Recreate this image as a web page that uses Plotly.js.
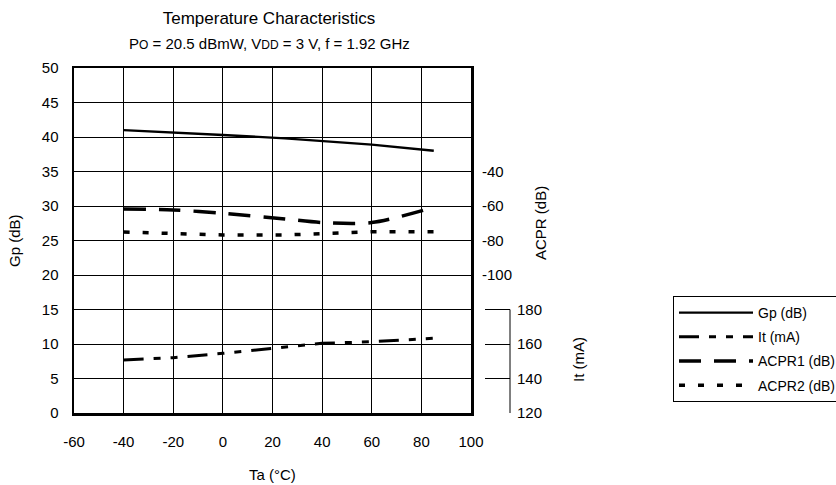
<!DOCTYPE html>
<html>
<head>
<meta charset="utf-8">
<script src="https://cdn.plot.ly/plotly-3.0.1.min.js"></script>
<style>html,body{margin:0;padding:0;background:#fff;}#chart{width:836px;height:485px;}</style>
</head>
<body>
<div id="chart"></div>
<script>
// Data
var ta = [-40, -20, 0, 25, 40, 60, 85];
var gp = [41.0, 40.7, 40.3, 39.8, 39.4, 38.9, 38.0];          // Gp (dB), left axis
var itmA = [150.7, 152.1, 154.6, 158.2, 160.4, 161.3, 163.3];  // It (mA)
var acpr1 = [-61.7, -62.3, -64.2, -67.5, -69.6, -69.6, -60.8]; // ACPR1 (dB)
var acpr2 = [-75.1, -76.2, -76.8, -76.8, -75.8, -74.9, -74.9]; // ACPR2 (dB)
var xTicks = [-60, -40, -20, 0, 20, 40, 60, 80, 100];
var xTickText = ['-60', '-40', '-20', '0', '20', '40', '60', '80', '100'];
var gpTicks = [0, 5, 10, 15, 20, 25, 30, 35, 40, 45, 50];
var acprTicks = [-100, -80, -60, -40];
var acprTickText = ['-100', '-80', '-60', '-40'];
var itTicks = [120, 140, 160, 180];

var FONT = 'Liberation Sans, Arial, sans-serif';

var traces = [
  {x: ta, y: gp, name: 'Gp (dB)', type: 'scatter', mode: 'lines', legendgroup: 'a',
   line: {color: '#000', width: 2.4}},
  {x: ta, y: itmA, name: 'It (mA)', type: 'scatter', mode: 'lines', yaxis: 'y3', legendgroup: 'b',
   line: {color: '#000', width: 3, dash: '20px,10px,7px,10px,7px,10px'}},
  {x: ta, y: acpr1, name: 'ACPR1 (dB)', type: 'scatter', mode: 'lines', yaxis: 'y2', legendgroup: 'c',
   line: {color: '#000', width: 3.5, dash: '22px,13px', shape: 'spline', smoothing: 0.8}},
  {x: ta, y: acpr2, name: 'ACPR2 (dB)', type: 'scatter', mode: 'lines', yaxis: 'y2', legendgroup: 'd',
   line: {color: '#000', width: 3.5, dash: '6px,13px'}}
];

var layout = {
  width: 836, height: 485,
  margin: {l: 74, r: 365, t: 68, b: 72, autoexpand: false},
  paper_bgcolor: '#fff', plot_bgcolor: '#fff',
  font: {family: FONT, size: 15, color: '#000'},
  showlegend: true,
  title: {text: 'Temperature Characteristics', font: {size: 17, family: FONT, color: '#000'},
          x: 269/836, xanchor: 'center', y: 1 - 18/485, yanchor: 'middle'},
  xaxis: {range: [-60, 100], tickvals: xTicks, ticktext: xTickText, showgrid: true, gridcolor: '#000', gridwidth: 1,
          zeroline: false, showline: true, linecolor: '#000', linewidth: 2.5, mirror: true,
          ticks: '', ticklabelstandoff: 13, tickfont: {size: 15}},
  yaxis: {range: [0, 50], tickvals: gpTicks, showgrid: true, gridcolor: '#000', gridwidth: 1,
          zeroline: false, showline: true, linecolor: '#000', linewidth: 2.5, mirror: true,
          ticks: '', ticklabelstandoff: 10, tickfont: {size: 15}},
  yaxis2: {overlaying: 'y', side: 'right', anchor: 'x', range: [-180, 20], tickvals: acprTicks, ticktext: acprTickText,
           showgrid: false, zeroline: false, showline: false, ticks: '',
           ticklabelstandoff: 10, tickfont: {size: 15}},
  yaxis3: {overlaying: 'y', side: 'right', anchor: 'free', position: 1, shift: 39,
           range: [120, 320], tickvals: itTicks, showgrid: false, zeroline: false, showline: false,
           ticks: 'inside', ticklen: 25, tickwidth: 1, tickcolor: '#000',
           ticklabelstandoff: 6, tickfont: {size: 15}},
  shapes: [
    {type: 'line', xref: 'paper', xsizemode: 'pixel', xanchor: 1, x0: 39, x1: 39,
     yref: 'y3', y0: 120, y1: 180, line: {color: '#000', width: 1}}
  ],
  legend: {x: (673 - 74) / 397, xanchor: 'left', y: (413 - 296) / 345, yanchor: 'top',
           bgcolor: '#fff', bordercolor: '#000', borderwidth: 1, itemwidth: 74,
           font: {size: 14, family: FONT, color: '#000'}, traceorder: 'grouped', tracegroupgap: 3},
  annotations: [
    {text: 'P<span style="font-size:12px">O</span> = 20.5 dBmW, V<span style="font-size:12px">DD</span> = 3 V, f = 1.92 GHz',
     xref: 'paper', yref: 'paper', x: (269 - 74) / 397, y: (413 - 44) / 345, xanchor: 'center', yanchor: 'middle',
     showarrow: false, font: {size: 15}},
    {text: 'Gp (dB)', xref: 'paper', yref: 'paper', x: (14 - 74) / 397, y: (413 - 240) / 345,
     textangle: -90, showarrow: false, xanchor: 'center', yanchor: 'middle', font: {size: 15}},
    {text: 'ACPR (dB)', xref: 'paper', yref: 'paper', x: (540 - 74) / 397, y: (413 - 223) / 345,
     textangle: -90, showarrow: false, xanchor: 'center', yanchor: 'middle', font: {size: 15}},
    {text: 'It (mA)', xref: 'paper', yref: 'paper', x: (578 - 74) / 397, y: (413 - 360) / 345,
     textangle: -90, showarrow: false, xanchor: 'center', yanchor: 'middle', font: {size: 15}},
    {text: 'Ta (°C)', xref: 'paper', yref: 'paper', x: (272 - 74) / 397, y: (413 - 474) / 345,
     showarrow: false, xanchor: 'center', yanchor: 'middle', font: {size: 15}}
  ]
};

Plotly.newPlot('chart', traces, layout, {displayModeBar: false, staticPlot: true});
</script>
</body>
</html>
